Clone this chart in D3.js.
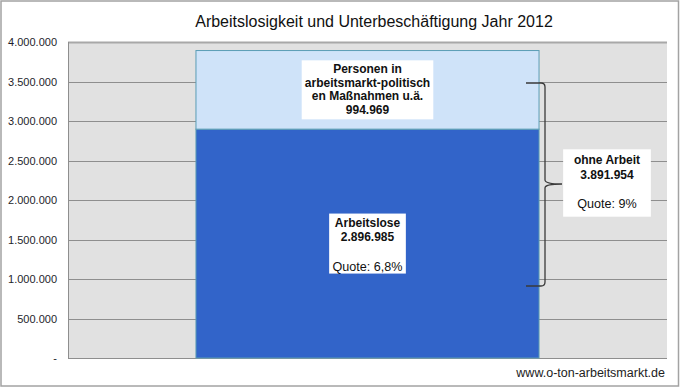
<!DOCTYPE html>
<html><head><meta charset="utf-8">
<script src="https://cdn.jsdelivr.net/npm/d3@7"></script>
<style>html,body{margin:0;padding:0;background:#fff;}svg{display:block;font-family:"Liberation Sans",Arial,sans-serif;}</style>
</head><body>
<svg id="chart" width="680" height="388"></svg>
<script>
const categories = ["2012"];
const arbeitslose = [2896985];
const massnahmen = [994969];
const ohneArbeit = [3891954];
const yTicks = [0, 500000, 1000000, 1500000, 2000000, 2500000, 3000000, 3500000, 4000000];
const titleText = "Arbeitslosigkeit und Unterbeschäftigung Jahr 2012";
const labelMassnahmen = ["Personen in", "arbeitsmarkt-politisch", "en Maßnahmen u.ä.", "994.969"];
const labelArbeitslose = ["Arbeitslose", "2.896.985", "", "Quote: 6,8%"];
const labelOhne = ["ohne Arbeit", "3.891.954", "", "Quote: 9%"];
const source = "www.o-ton-arbeitsmarkt.de";

const svg = d3.select("#chart");
const L = 68, R = 667, T = 42, B = 358;
const fmt = v => v === 0 ? "-" : d3.format(",")(v).replace(/,/g, ".");

const x = d3.scaleBand().domain(categories).range([L, R]).paddingInner(0).paddingOuter(0.373);
const y = d3.scaleLinear().domain([0, 4000000]).range([B, T]);

// outer border
svg.append("rect").attr("x", 1).attr("y", 1).attr("width", 677.5).attr("height", 385)
  .attr("fill", "#fff").attr("stroke", "#a3a3a3").attr("stroke-width", 1.5);

// plot background
svg.append("rect").attr("x", L).attr("y", T).attr("width", R - L).attr("height", B - T).attr("fill", "#e1e1e1");

// grid lines
svg.append("g").selectAll("line").data(yTicks).join("line")
  .attr("x1", L).attr("x2", R)
  .attr("y1", d => Math.round(y(d)) + 0.5).attr("y2", d => Math.round(y(d)) + 0.5)
  .attr("stroke", d => d === 4000000 ? "#a8a8a8" : "#8e8e8e")
  .attr("stroke-width", d => d === 4000000 ? 2 : 1);
svg.append("line").attr("x1", L + 0.5).attr("x2", L + 0.5).attr("y1", T).attr("y2", B + 1).attr("stroke", "#8e8e8e");

// y axis labels
const yAxis = d3.axisLeft(y).tickValues(yTicks).tickFormat(fmt).tickSize(0).tickPadding(0);
const ga = svg.append("g").attr("transform", `translate(${L - 11},0)`).call(yAxis);
ga.select(".domain").remove();
ga.selectAll("text").attr("font-size", 11).attr("fill", "#1e1e2a").attr("font-family", "Liberation Sans, Arial, sans-serif");

// bars
const bars = svg.append("g");
bars.selectAll("rect.a").data(categories).join("rect").attr("class", "a")
  .attr("x", d => x(d)).attr("width", x.bandwidth())
  .attr("y", (d, i) => y(arbeitslose[i])).attr("height", (d, i) => y(0) - y(arbeitslose[i]))
  .attr("fill", "#3264c9").attr("stroke", "#5a9db5").attr("stroke-width", 1);
bars.selectAll("rect.m").data(categories).join("rect").attr("class", "m")
  .attr("x", d => x(d)).attr("width", x.bandwidth())
  .attr("y", (d, i) => y(arbeitslose[i] + massnahmen[i])).attr("height", (d, i) => y(arbeitslose[i]) - y(arbeitslose[i] + massnahmen[i]))
  .attr("fill", "#cfe3f9").attr("stroke", "#5a9db5").attr("stroke-width", 1);

// label boxes
function labelBox(cx, y0, w, h, lines, baselines, boldFlags) {
  const g = svg.append("g");
  g.append("rect").attr("x", cx - w / 2).attr("y", y0).attr("width", w).attr("height", h).attr("fill", "#fff");
  lines.forEach((t, i) => {
    if (!t) return;
    g.append("text").attr("x", cx).attr("y", baselines[i]).attr("text-anchor", "middle")
      .attr("font-size", boldFlags[i] ? 12 : 12.6).attr("font-weight", boldFlags[i] ? "bold" : "normal")
      .attr("fill", "#111").text(t);
  });
}
const cx = x(categories[0]) + x.bandwidth() / 2;
const midM = (y(arbeitslose[0]) + y(arbeitslose[0] + massnahmen[0])) / 2;
labelBox(cx, midM - 29.5, 131.6, 59, labelMassnahmen, [midM - 16.5, midM - 3.2, midM + 10.2, midM + 24.3], [1, 1, 1, 1]);
const midA = (y(0) + y(arbeitslose[0])) / 2;
labelBox(cx, midA - 30, 76.7, 60, labelArbeitslose, [midA - 16.3, midA - 3, 0, midA + 27.3], [1, 1, 0, 0]);

// brace
const bx0 = 526, bx1 = 545, btip = 562, byTop = 83, byBot = 286, byMid = 184;
const r = 4;
const brace = `M${bx0},${byTop} L${bx1 - r},${byTop} Q${bx1},${byTop} ${bx1},${byTop + r}
 L${bx1},${byMid - r} Q${bx1},${byMid} ${btip},${byMid} Q${bx1},${byMid} ${bx1},${byMid + r}
 L${bx1},${byBot - r} Q${bx1},${byBot} ${bx1 - r},${byBot} L${bx0},${byBot}`;
svg.append("path").attr("d", brace).attr("fill", "none").attr("stroke", "#3a3a3a").attr("stroke-width", 1.3);

labelBox(607, 149.3, 87.7, 67.4, labelOhne, [164.3, 179.3, 0, 207.8], [1, 1, 0, 0]);

// title
svg.append("text").attr("x", 374).attr("y", 27).attr("text-anchor", "middle")
  .attr("font-size", 16).attr("fill", "#111").text(titleText);

// source
svg.append("text").attr("x", 665).attr("y", 377).attr("text-anchor", "end")
  .attr("font-size", 12.5).attr("fill", "#222").text(source);
</script>
</body></html>
